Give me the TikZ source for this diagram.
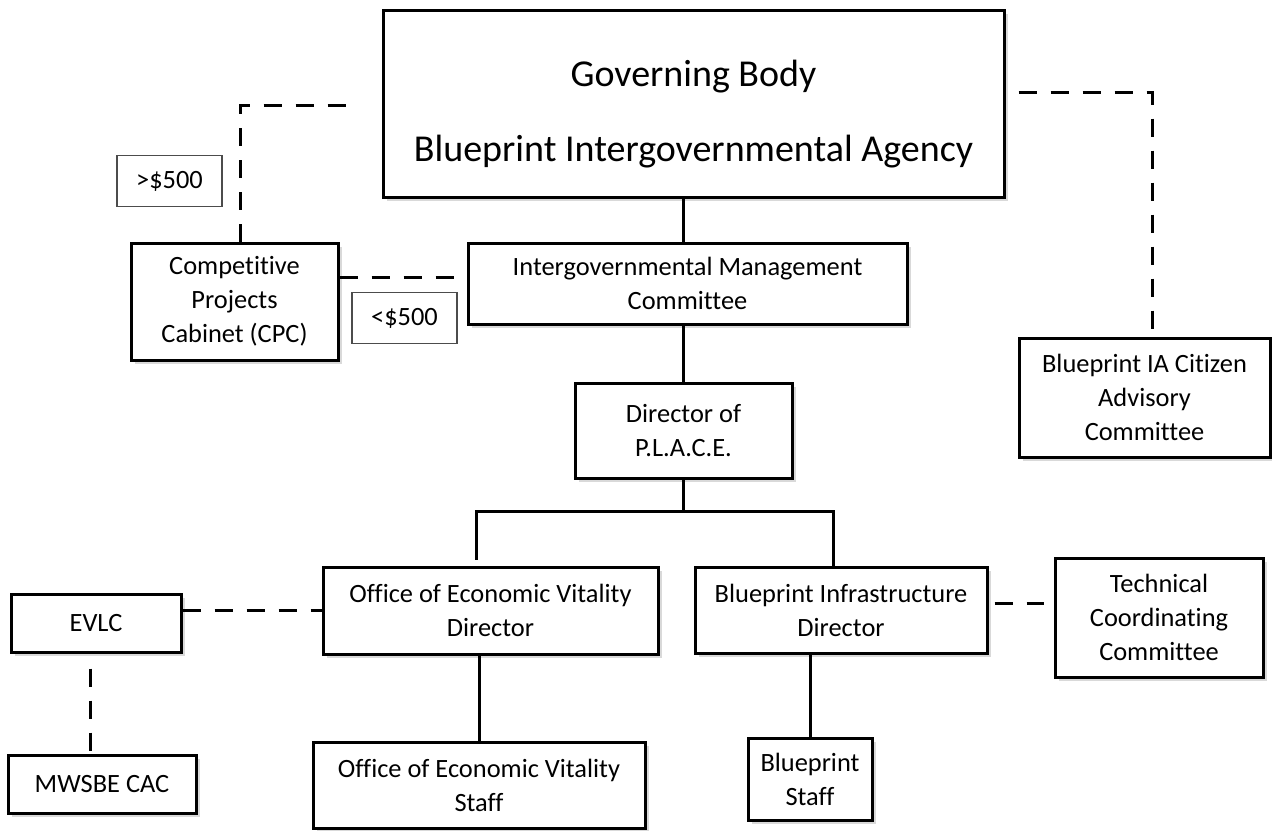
\documentclass[tikz,border=0pt]{standalone}
\usepackage{fontspec}
\setmainfont{Carlito}[Ligatures=NoCommon]
\usetikzlibrary{positioning,calc,shadows}

\begin{document}
\begin{tikzpicture}[x=0.5pt, y=-0.5pt,
    unit/.style={draw=black, line width=1.5pt, fill=white,
        drop shadow={shadow xshift=1.8pt, shadow yshift=-1.8pt, opacity=0.3},
        align=center, text centered, inner sep=2pt,
        font=\fontsize{13.2}{17}\selectfont},
    limit/.style={draw=black!70, line width=0.6pt, fill=white,
        minimum width=52.5pt, minimum height=25.5pt, inner sep=1pt,
        font=\fontsize{13.2}{15}\selectfont},
    solidline/.style={line width=1.5pt},
    dashline/.style={line width=1.5pt, dash pattern=on 9pt off 7pt}]

        \useasboundingbox (0,0) rectangle (1272,830);

        %governing body
        \node[unit, minimum width=310.5pt, minimum height=93.5pt,
            font=\fontsize{19}{37.5}\selectfont] (GB) at (693.5,103.5)
            {\rule{0pt}{24pt}Governing Body\\Blueprint Intergovernmental Agency};

        %management committee
        \node[unit, minimum width=219.5pt, minimum height=40.5pt] (IMC) at (687.5,283.5)
            {Intergovernmental Management\\Committee};

        %cabinet
        \node[unit, minimum width=103.5pt, minimum height=58.5pt] (CPC) at (234.5,301.5)
            {Competitive\\Projects\\Cabinet (CPC)};

        %thresholds
        \node[limit] (over) at (169.5,181) {>\$500};
        \node[limit] (under) at (404.5,318) {<\$500};

        %director
        \node[unit, minimum width=108.5pt, minimum height=47.5pt] (Dir) at (683.5,430.5)
            {Director of\\P.L.A.C.E.};

        %citizen advisory
        \node[unit, minimum width=125.5pt, minimum height=59.5pt] (CAC) at (1144.5,397.5)
            {Blueprint IA Citizen\\Advisory\\Committee};

        %offices
        \node[unit, minimum width=167.5pt, minimum height=43.5pt] (OEV) at (490.5,610.5)
            {Office of Economic Vitality\\Director};
        \node[unit, minimum width=146pt, minimum height=43pt] (BI) at (841,610)
            {Blueprint\ Infrastructure\\Director};
        \node[unit, minimum width=104pt, minimum height=59.5pt] (TCC) at (1159,617.5)
            {Technical\\Coordinating\\Committee};

        %side committees
        \node[unit, minimum width=85pt, minimum height=29pt] (EVLC) at (96,623) {EVLC};
        \node[unit, minimum width=94pt, minimum height=29pt] (MWSBE) at (102,784) {MWSBE CAC};

        %staff
        \node[unit, minimum width=166pt, minimum height=43pt] (OEVS) at (479,785)
            {Office of Economic Vitality\\Staff};
        \node[unit, minimum width=62pt, minimum height=41pt] (BPS) at (810,779)
            {Blueprint\\Staff};

        %reporting lines
        \draw[solidline] (GB.south -| Dir.north) -- (IMC.north -| Dir.north);
        \draw[solidline] (IMC.south -| Dir.north) -- (Dir.north);
        \coordinate (fork) at ($(Dir.south)+(0,32)$);
        \draw[solidline] (Dir.south) -- (fork);
        \draw[solidline, shorten <=3pt] ($(OEV.north)+(-14.5,0)$) |- (fork)
            -| ($(BI.north)+(-8,0)$);
        \draw[solidline] (OEV.south -| OEVS.north) -- (OEVS.north);
        \draw[solidline] (BI.south -| BPS.north) -- (BPS.north);

        %advisory lines
        \draw[dashline, shorten >=11pt] ($(CPC.north)+(5.5,0)$) |- ($(GB.west)+(0,1.5)$);
        \draw[dashline, shorten >=2.5pt] ($(CPC.east)+(0,-24.5)$) -- ($(IMC.west)+(0,-6.5)$);
        \draw[dashline, shorten <=6.5pt] ($(GB.east)+(0,-11.5)$) -| ($(CAC.north)+(7.5,0)$);
        \draw[dashline] (EVLC.east |- OEV.west) -- (OEV.west);
        \draw[dashline, shorten <=7.5pt] ($(EVLC.south)+(-6,0)$) -- ($(MWSBE.north)+(-12,0)$);
        \draw[dashline, shorten <=3pt, shorten >=5pt] ($(BI.east)+(0,-7)$) -- ($(TCC.west)+(0,-14.5)$);

\end{tikzpicture}
\end{document}
